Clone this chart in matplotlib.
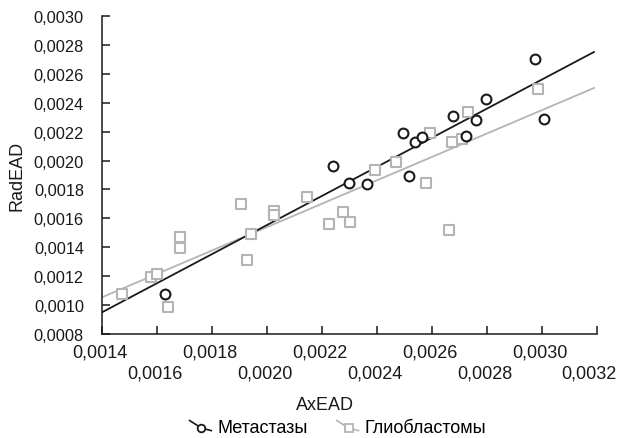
import matplotlib
matplotlib.use("Agg")
from matplotlib import pyplot as plt
from matplotlib.lines import Line2D
from matplotlib.legend_handler import HandlerBase
from matplotlib.ticker import FixedLocator, FuncFormatter
from matplotlib.transforms import ScaledTranslation

plt.rcParams['font.family'] = ['Liberation Sans', 'DejaVu Sans']

# Метастазы
met_x = [0.001629, 0.002241, 0.002297, 0.002363, 0.002493, 0.002516, 0.002537,
         0.002563, 0.002675, 0.002724, 0.002760, 0.002795, 0.002975, 0.003008]
met_y = [0.001079, 0.001963, 0.001844, 0.001841, 0.002194, 0.001892, 0.002128,
         0.002166, 0.002310, 0.002173, 0.002280, 0.002427, 0.002702, 0.002287]

# Глиобластомы
gli_x = [0.001472, 0.001577, 0.001601, 0.001639, 0.001685, 0.001685, 0.001905,
         0.001927, 0.001942, 0.002025, 0.002025, 0.002144, 0.002227, 0.002277,
         0.002302, 0.002394, 0.002468, 0.002594, 0.002579, 0.002663, 0.002674,
         0.002709, 0.002731, 0.002984]
gli_y = [0.001077, 0.001197, 0.001213, 0.000985, 0.001470, 0.001398, 0.001702,
         0.001312, 0.001490, 0.001654, 0.001624, 0.001747, 0.001564, 0.001643,
         0.001576, 0.001936, 0.001993, 0.002194, 0.001848, 0.001518, 0.002130,
         0.002148, 0.002335, 0.002497]

# линии регрессии (концы)
fit_x = [0.0014, 0.003189]
met_fit_y = [0.000950, 0.002751]
gli_fit_y = [0.001054, 0.002502]

major_x = [0.0014, 0.0018, 0.0022, 0.0026, 0.0030]
minor_x = [0.0016, 0.0020, 0.0024, 0.0028, 0.0032]
ticks_y = [0.0008 + 0.0002 * i for i in range(12)]

BLACK = "#1a1a1a"
GREY = "#b4b4b4"


class DiagHandler(HandlerBase):
    # короткий наклонный отрезок с маркером, как в оригинале
    def create_artists(self, legend, orig, xd, yd, w, h, fontsize, trans):
        ln = Line2D([0, 0.55 * w, w], [h * 0.95, h * 0.35, h * 0.15],
                    color=orig.get_color(), lw=1.2, marker=orig.get_marker(),
                    markevery=[1], markersize=5.5, markerfacecolor="white",
                    markeredgecolor=orig.get_markeredgecolor(), markeredgewidth=1.3)
        ln.set_transform(trans)
        return [ln]


fig = plt.figure(figsize=(6.21, 4.39), dpi=100)
ax = fig.add_axes([102 / 621, 1 - 335 / 439, 495 / 621, 318 / 439])

ax.plot(fit_x, met_fit_y, color=BLACK, lw=1.3, zorder=2)
ax.plot(fit_x, gli_fit_y, color=GREY, lw=1.3, zorder=1)
ax.scatter(gli_x, gli_y, marker="s", s=48, facecolors="white", edgecolors=GREY,
           linewidths=1.5, zorder=3)
ax.scatter(met_x, met_y, marker="o", s=50, facecolors="white", edgecolors=BLACK,
           linewidths=1.5, zorder=4)

ax.set_xlim(0.0014, 0.0032)
ax.set_ylim(0.0008, 0.0030)
for s in ["top", "right"]:
    ax.spines[s].set_visible(False)
for s in ["left", "bottom"]:
    ax.spines[s].set_linewidth(1.1)
    ax.spines[s].set_color(BLACK)

fmt = FuncFormatter(lambda v, p: f"{v:.4f}".replace(".", ","))
ax.xaxis.set_major_locator(FixedLocator(major_x))
ax.xaxis.set_minor_locator(FixedLocator(minor_x))
ax.xaxis.set_major_formatter(fmt)
ax.xaxis.set_minor_formatter(fmt)
ax.yaxis.set_major_locator(FixedLocator(ticks_y))
ax.yaxis.set_major_formatter(fmt)

ax.tick_params(axis="x", which="both", direction="in", length=5.5, width=1.1,
               labelsize=13, color=BLACK, labelcolor=BLACK)
ax.tick_params(axis="x", which="major", pad=7)
ax.tick_params(axis="x", which="minor", pad=22)
ax.tick_params(axis="y", direction="in", length=5.5, width=1.1, labelsize=11.8,
               pad=13, color=BLACK, labelcolor=BLACK)

# подписи по x чуть сдвинуты влево, последняя - сильнее, чтобы не обрезалась
ticks = ax.xaxis.get_major_ticks(len(major_x)) + ax.xaxis.get_minor_ticks(len(minor_x))
for i, t in enumerate(ticks):
    dx = -8 if i == len(ticks) - 1 else -2
    t.label1.set_transform(t.label1.get_transform()
                           + ScaledTranslation(dx / 100, 0, fig.dpi_scale_trans))

fig.text(17 / 621, 1 - 176 / 439, "RadEAD", rotation=90, ha="center", va="center",
         fontsize=13, color=BLACK)
fig.text(325 / 621, 1 - 406 / 439, "AxEAD", ha="center", va="center",
         fontsize=13, color=BLACK)

h1 = Line2D([], [], color=BLACK, marker="o", markeredgecolor=BLACK)
h2 = Line2D([], [], color=GREY, marker="s", markeredgecolor=GREY)
fig.legend([h1, h2], ["Метастазы", "Глиобластомы"], loc="center",
           bbox_to_anchor=(338 / 621, 1 - 429 / 439), ncol=2, frameon=False,
           fontsize=13, handlelength=1.2, handletextpad=0.35, columnspacing=1.6,
           handler_map={Line2D: DiagHandler()})

fig.savefig("out.png", dpi=100)
